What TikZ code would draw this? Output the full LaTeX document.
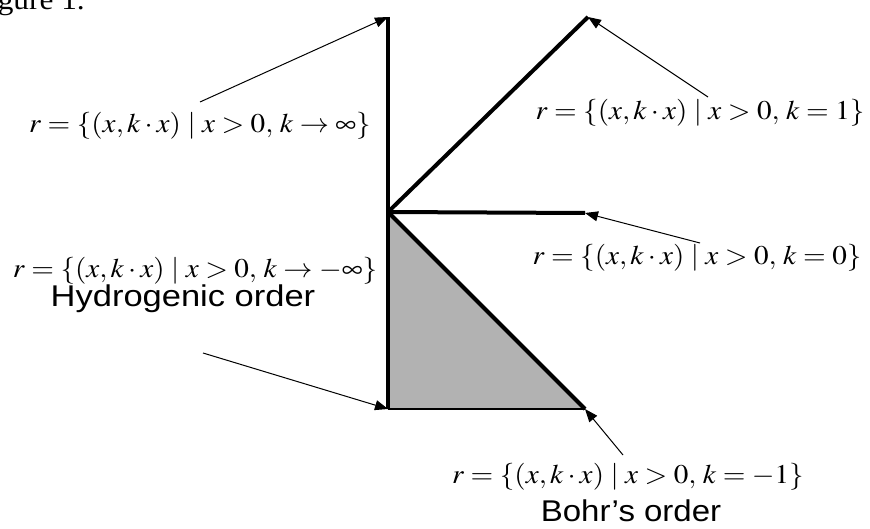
\documentclass[tikz,border=0pt]{standalone}
\usepackage{mathptmx}
\usepackage{graphicx}
\usepackage{fontspec}
\newfontfamily\helv{Liberation Sans}
\newfontfamily\tms{Liberation Serif}
\usetikzlibrary{arrows.meta}
\newcommand{\mset}[1]{\scalebox{1.08}[1]{$r=\{(x,k\cdot x)\mid x>0,\,#1\}$}}
\tikzset{
  thickline/.style={line width=4pt, line cap=butt},
  thinline/.style={line width=1.1pt},
  pointer/.style={line width=1pt, -{Triangle[length=13pt,width=10pt]}},
  mathlabel/.style={inner sep=0pt, anchor=base, font=\fontsize{27}{32}\selectfont},
  wordlabel/.style={inner sep=0pt, anchor=base, font=\helv\fontsize{30}{34}\selectfont},
}
\begin{document}
\begin{tikzpicture}[x=1pt,y=-1pt]
\useasboundingbox (0,0) rectangle (870,529);
% key points
\coordinate (O) at (388,212);
\coordinate (top) at (388,17);
\coordinate (bot) at (388,409);
\coordinate (diag) at (588,17);
\coordinate (hor) at (585,213);
\coordinate (neg) at (585,409);
% shaded region
\fill[gray!60] (O) -- (bot) -- (neg) -- cycle;
\draw[thinline] (bot) -- (neg);
\draw[thickline] (top) -- (bot);
\draw[thickline] (O) -- (diag);
\draw[thickline] (O) -- (hor);
\draw[thickline] (O) -- (neg);
% labels
\node[mathlabel] (l1) at (200,133) {\mset{k\to\infty}};
\node[mathlabel] (l2) at (700,120) {\mset{k=1}};
\node[mathlabel] (l3) at (697,265) {\mset{k=0}};
\node[mathlabel] (l4) at (195,278) {\mset{k\to-\infty}};
\node[wordlabel] (h) at (183,307) {\scalebox{1.15}[1]{Hydrogenic order}};
\node[mathlabel] (l5) at (628,483) {\mset{k=-1}};
\node[wordlabel] (b) at (631,521) {\scalebox{1.1}[1]{Bohr’s order}};
\node[inner sep=0pt, anchor=base east, font=\tms\fontsize{29}{34}\selectfont] (fig) at (85,10) {\scalebox{1.08}[1]{Figure 1.}};
% pointer tails
\coordinate (t1) at (200,102);
\coordinate (t2) at (708,97);
\coordinate (t3) at (700,243);
\coordinate (t4) at (203,353);
\coordinate (t5) at (623,455);
\draw[pointer] (t1) -- (top);
\draw[pointer] (t2) -- (diag);
\draw[pointer] (t3) -- (hor);
\draw[pointer] (t4) -- (bot);
\draw[pointer] (t5) -- (neg);
\end{tikzpicture}
\end{document}
